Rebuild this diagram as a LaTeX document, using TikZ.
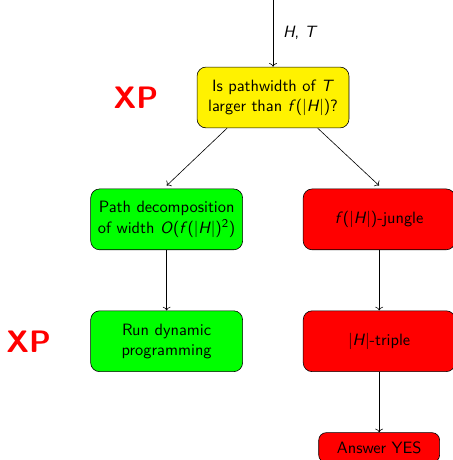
\documentclass[tikz,border=0pt,11pt]{standalone}
\usepackage{amsmath,amssymb}
\usepackage{xcolor}
\usepackage{tikz}
\usetikzlibrary{positioning,arrows.meta}

\newcommand{\mv}[1]{\textsl{#1}}

\begin{document}
\begin{tikzpicture}[
    font=\sffamily,
    node distance=1.42cm and 1.41cm,
    box/.style={draw, rounded corners=6pt, minimum width=3.57cm, minimum height=1.43cm,
                align=center, inner sep=1pt},
    ask/.style={box, fill=yellow},
    poly/.style={box, fill=green},
    jung/.style={box, fill=red},
    xp/.style={font=\huge\sffamily\bfseries, text=red, inner sep=0pt},
    arr/.style={->},
  ]
  \useasboundingbox (-6.416,2.291) rectangle (4.207,-8.519);

  \node[ask] (ask) {Is pathwidth of \mv{T}\\larger than \mv{f}(|\mv{H}|)?};
  \coordinate[above=1.6cm of ask] (input);
  \node[poly, below=of ask, xshift=-2.5cm] (pathdec)
       {Path decomposition\\of width \mv{O}(\mv{f}(|\mv{H}|)\textsuperscript{2})};
  \node[jung, right=of pathdec] (jungle) {\mv{f}(|\mv{H}|)-jungle};
  \node[poly, below=of pathdec] (dynprog) {Run dynamic\\programming};
  \node[jung, below=of jungle] (triple) {|\mv{H}|-triple};
  \node[jung, below=of triple, minimum width=2.84cm, minimum height=0.7cm,
        rounded corners=5pt] (yes) {Answer YES};

  \node[xp, left=0.9cm of ask] (xpask) {XP};
  \node[xp, left=0.92cm of dynprog] (xpdyn) {XP};

  \draw[arr] (input) -- node[midway, right, xshift=0.1cm] {\mv{H}, \mv{T}} (ask);
  \draw[arr] ([xshift=-1.08cm]ask.south) -- ([yshift=2pt]pathdec.north);
  \draw[arr] ([xshift=1.05cm]ask.south) -- ([yshift=2pt]jungle.north);
  \draw[arr] (pathdec) -- (dynprog);
  \draw[arr] (jungle) -- (triple);
  \draw[arr] (triple) -- (yes);
\end{tikzpicture}
\end{document}
